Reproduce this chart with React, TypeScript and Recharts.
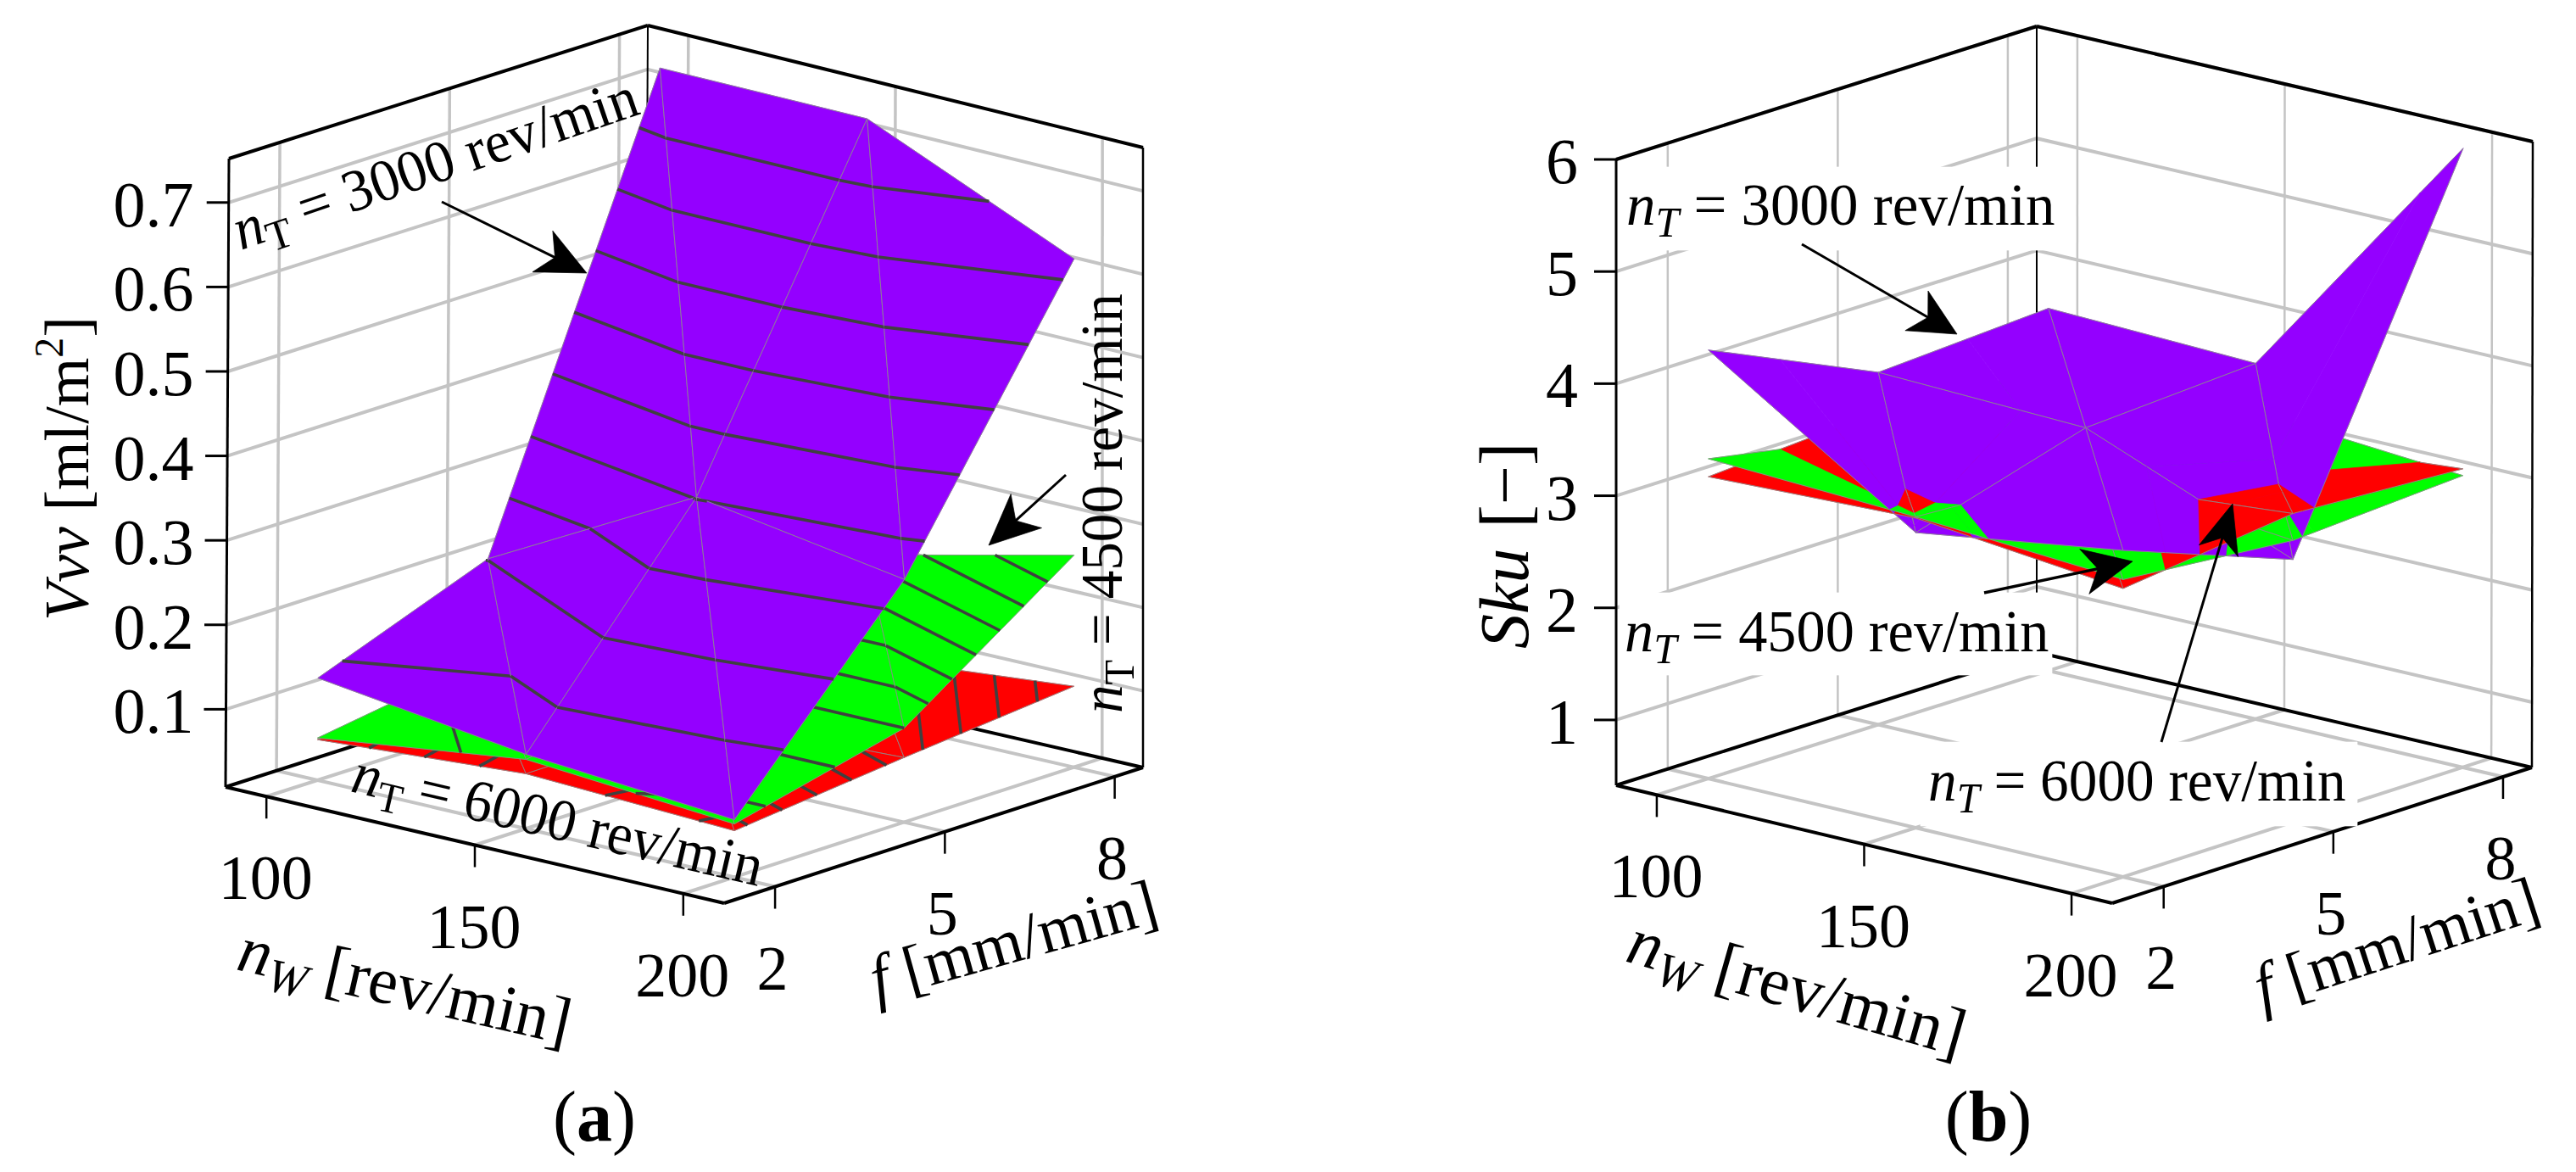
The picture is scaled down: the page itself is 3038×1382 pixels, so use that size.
import React from "react";
import { ScatterChart, Scatter, XAxis, YAxis } from "recharts";

// axis ticks
const NW_TICKS = [100, 150, 200];
const F_TICKS = [2, 5, 8];
const VVV_TICKS = [0.1, 0.2, 0.3, 0.4, 0.5, 0.6, 0.7];
const SKU_TICKS = [1, 2, 3, 4, 5, 6];

// surface heights, one row per feed (2, 5, 8), one column per nW (100, 150, 200)
const VVV_3000 = [
  [0.129, 0.096, 0.076],
  [0.206, 0.337, 0.297],
  [0.724, 0.724, 0.617],
];
const VVV_4500 = [
  [0.058, 0.09, 0.071],
  [0.089, 0.12, 0.12],
  [0.22, 0.204, 0.262],
];
const VVV_6000 = [
  [0.056, 0.073, 0.063],
  [0.06, 0.075, 0.085],
  [0.07, 0.082, 0.105],
];
const SKU_3000 = [
  [4.24, 3.05, 3.33],
  [3.56, 3.5, 2.76],
  [3.65, 3.59, 5.94],
];
const SKU_4500 = [
  [3.27, 3.19, 3.07],
  [2.99, 3.11, 2.93],
  [3.2, 3.16, 3.02],
];
const SKU_6000 = [
  [3.11, 3.18, 2.99],
  [3.21, 3.01, 3.17],
  [3.0, 2.93, 3.08],
];

// contour levels drawn on the left hand surfaces
const LEVELS_3000 = [0.14, 0.205, 0.27, 0.335, 0.401, 0.466, 0.531, 0.596, 0.661];
const LEVELS_4500 = [0.08, 0.1, 0.12, 0.14, 0.16, 0.18, 0.2, 0.22, 0.24];
const LEVELS_6000 = [0.0602, 0.0647, 0.0692, 0.0737, 0.0782, 0.0827, 0.0872, 0.0917, 0.0962, 0.1007];

const PURPLE = "#9400ff";
const GREEN = "#00ff00";
const RED = "#ff0000";
const GRID = "#c4c4c4";
const MESH = "#8c8c8c";
const CONTOUR = "#404040";
const SERIF = "'Liberation Serif', serif";

type Pt = { x: number; y: number };
type Frame = {
  nw: [number, number];
  f: [number, number];
  z: [number, number];
  // bottom corners left, front, right, back, then the same four on top
  bottom: number[][];
  top: number[][];
};

const FRAME_A: Frame = {
  nw: [90.2, 209.8],
  f: [1.1, 8.5],
  z: [0.008, 0.752],
  bottom: [[266, 928], [854, 1065], [1348, 905], [760, 770]],
  top: [[270, 187], [856, 322], [1348, 174], [764, 30]],
};
const FRAME_B: Frame = {
  nw: [90.2, 209.8],
  f: [1.09, 8.51],
  z: [0.417, 6.0],
  bottom: [[1906, 926], [2491, 1065], [2986, 905], [2402, 769]],
  top: [[1906, 188], [2491, 327], [2987, 167], [2402, 31]],
};

const norm = (v: number, [a, b]: [number, number]) => (v - a) / (b - a);

function project(fr: Frame, nw: number, f: number, z: number): Pt {
  const s = norm(nw, fr.nw);
  const t = norm(f, fr.f);
  const u = norm(z, fr.z);
  const at = (c: number[][], i: number) =>
    (1 - t) * ((1 - s) * c[0][i] + s * c[1][i]) + t * ((1 - s) * c[3][i] + s * c[2][i]);
  return {
    x: (1 - u) * at(fr.bottom, 0) + u * at(fr.top, 0),
    y: (1 - u) * at(fr.bottom, 1) + u * at(fr.top, 1),
  };
}

const NoDot = () => null;

function line(key: string, pts: Pt[], stroke: string, width: number) {
  return (
    <Scatter
      key={key}
      data={pts}
      shape={NoDot}
      isAnimationActive={false}
      line={{ stroke, strokeWidth: width, fill: "none" }}
    />
  );
}

function area(key: string, pts: Pt[], fill: string) {
  return (
    <Scatter
      key={key}
      data={[...pts, pts[0]]}
      shape={NoDot}
      isAnimationActive={false}
      line={{ stroke: fill, strokeWidth: 0.7, fill }}
    />
  );
}

type LabelOpts = { size: number; angle?: number; sx?: number; skew?: number; anchor?: string };

function label(key: string, at: Pt, content: React.ReactNode, o: LabelOpts) {
  const { size, angle = 0, sx = 1, skew = 0, anchor = "start" } = o;
  return (
    <Scatter
      key={key}
      data={[at]}
      isAnimationActive={false}
      shape={(p: any) => (
        <text
          transform={`translate(${p.cx} ${p.cy}) rotate(${angle}) skewX(${skew}) scale(${sx} 1)`}
          fontFamily={SERIF}
          fontSize={size}
          textAnchor={anchor}
          fill="#000"
        >
          {content}
        </text>
      )}
    />
  );
}

const sub = (size: number, text: string, italic = false) => (
  <>
    <tspan fontSize={size * 0.72} dy={size * 0.2} fontStyle={italic ? "italic" : "normal"}>
      {text}
    </tspan>
    <tspan dy={-size * 0.2}> </tspan>
  </>
);

const speedText = (size: number, rpm: string, italicT = false) => (
  <>
    <tspan fontStyle="italic">n</tspan>
    {sub(size, "T", italicT)}
    <tspan>= {rpm} rev/min</tspan>
  </>
);

function arrow(key: string, tail: Pt, tip: Pt, len: number, half: number, width: number) {
  const d = Math.hypot(tip.x - tail.x, tip.y - tail.y);
  const ux = (tip.x - tail.x) / d;
  const uy = (tip.y - tail.y) / d;
  const back = (l: number, w: number) => ({
    x: tip.x - ux * l - uy * w,
    y: tip.y - uy * l + ux * w,
  });
  return [
    line(key + "-shaft", [tail, back(len * 0.7, 0)], "#000", width),
    area(key + "-head", [tip, back(len, half), back(len * 0.72, 0), back(len, -half)], "#000"),
  ];
}

function frameMarks(
  fr: Frame,
  zTicks: number[],
  tickLabel: (z: number) => string,
  zLabelX: number,
  wallWidth: number,
  key: string,
) {
  const [n0, n1] = fr.nw;
  const [f0, f1] = fr.f;
  const [z0, z1] = fr.z;
  const out: React.ReactNode[] = [];
  const p = (a: number, b: number, c: number) => project(fr, a, b, c);

  NW_TICKS.forEach((n) => {
    out.push(line(`${key}-fn${n}`, [p(n, f0, z0), p(n, f1, z0)], GRID, 4));
    out.push(line(`${key}-wn${n}`, [p(n, f1, z0), p(n, f1, z1)], GRID, wallWidth));
  });
  F_TICKS.forEach((f) => {
    out.push(line(`${key}-ff${f}`, [p(n0, f, z0), p(n1, f, z0)], GRID, 4));
    out.push(line(`${key}-wf${f}`, [p(n0, f, z0), p(n0, f, z1)], GRID, wallWidth));
  });
  zTicks.forEach((z) => {
    out.push(line(`${key}-zl${z}`, [p(n0, f0, z), p(n0, f1, z), p(n1, f1, z)], GRID, 4));
  });

  const box: [string, Pt, Pt, number][] = [
    ["lb", p(n0, f0, z0), p(n0, f1, z0), 4],
    ["br", p(n0, f1, z0), p(n1, f1, z0), 4],
    ["lf", p(n0, f0, z0), p(n1, f0, z0), 4],
    ["fr", p(n1, f0, z0), p(n1, f1, z0), 4],
    ["tl", p(n0, f0, z1), p(n0, f1, z1), 4],
    ["tr", p(n0, f1, z1), p(n1, f1, z1), 4],
    ["vl", p(n0, f0, z0), p(n0, f0, z1), 3],
    ["vb", p(n0, f1, z0), p(n0, f1, z1), 2],
    ["vr", p(n1, f1, z0), p(n1, f1, z1), 2.5],
  ];
  box.forEach(([id, a, b, w]) => out.push(line(`${key}-${id}`, [a, b], "#000", w)));

  NW_TICKS.forEach((n) => {
    const a = p(n, f0, z0);
    out.push(line(`${key}-tn${n}`, [a, { x: a.x, y: a.y + 26 }], "#000", 2.5));
    out.push(label(`${key}-ln${n}`, { x: a.x - 1, y: a.y + 121 }, n, { size: 74, anchor: "middle" }));
  });
  F_TICKS.forEach((f) => {
    const a = p(n1, f, z0);
    out.push(line(`${key}-tf${f}`, [a, { x: a.x, y: a.y + 26 }], "#000", 2.5));
    out.push(label(`${key}-lf${f}`, { x: a.x - 3, y: a.y + 121 }, f, { size: 74, anchor: "middle" }));
  });
  zTicks.forEach((z) => {
    const a = p(n0, f0, z);
    out.push(line(`${key}-tz${z}`, [{ x: a.x - 26, y: a.y }, a], "#000", 3));
    out.push(label(`${key}-lz${z}`, { x: zLabelX, y: a.y + 28 }, tickLabel(z), { size: 76, anchor: "middle" }));
  });
  return out;
}

type Surface = { values: number[][]; color: string; levels: number[] };
type Bary = [number, number, number];

function clip(poly: Bary[], fn: (b: Bary) => number): Bary[] {
  const out: Bary[] = [];
  poly.forEach((a, i) => {
    const b = poly[(i + 1) % poly.length];
    const fa = fn(a);
    const fb = fn(b);
    if (fa >= 0) out.push(a);
    if ((fa >= 0) !== (fb >= 0)) {
      const r = fa / (fa - fb);
      out.push([a[0] + (b[0] - a[0]) * r, a[1] + (b[1] - a[1]) * r, a[2] + (b[2] - a[2]) * r]);
    }
  });
  return out;
}

const PERMS = [[0, 1, 2], [0, 2, 1], [1, 0, 2], [1, 2, 0], [2, 0, 1], [2, 1, 0]];

function surfaceMarks(fr: Frame, surfaces: Surface[], key: string) {
  type Piece = { rank: number; depth: number; node: React.ReactNode[] };
  const pieces: Piece[] = [];
  const cells: number[][][] = [];
  for (let j = 0; j < 2; j++) {
    for (let i = 0; i < 2; i++) {
      cells.push([[i, j], [i + 1, j], [i, j + 1]]);
      cells.push([[i + 1, j], [i + 1, j + 1], [i, j + 1]]);
    }
  }
  cells.forEach((tri, ci) => {
    const zOf = (s: Surface, b: Bary) =>
      b[0] * s.values[tri[0][1]][tri[0][0]] +
      b[1] * s.values[tri[1][1]][tri[1][0]] +
      b[2] * s.values[tri[2][1]][tri[2][0]];
    const nwOf = (b: Bary) => b[0] * NW_TICKS[tri[0][0]] + b[1] * NW_TICKS[tri[1][0]] + b[2] * NW_TICKS[tri[2][0]];
    const fOf = (b: Bary) => b[0] * F_TICKS[tri[0][1]] + b[1] * F_TICKS[tri[1][1]] + b[2] * F_TICKS[tri[2][1]];

    PERMS.forEach((perm, pi) => {
      let poly: Bary[] = [[1, 0, 0], [0, 1, 0], [0, 0, 1]];
      poly = clip(poly, (b) => zOf(surfaces[perm[1]], b) - zOf(surfaces[perm[0]], b));
      if (poly.length) poly = clip(poly, (b) => zOf(surfaces[perm[2]], b) - zOf(surfaces[perm[1]], b));
      if (poly.length < 3) return;
      const c: Bary = [0, 1, 2].map((k) => poly.reduce((acc, v) => acc + v[k], 0) / poly.length) as Bary;
      const spread = poly.reduce((acc, v) => acc + Math.abs(v[0] - c[0]) + Math.abs(v[1] - c[1]), 0);
      if (spread < 1e-4) return;

      perm.forEach((sid, rank) => {
        const s = surfaces[sid];
        const to = (b: Bary) => project(fr, nwOf(b), fOf(b), zOf(s, b));
        const id = `${key}-${ci}-${pi}-${sid}`;
        const node: React.ReactNode[] = [area(id, poly.map(to), s.color)];
        poly.forEach((a, i) => {
          const b = poly[(i + 1) % poly.length];
          if ([0, 1, 2].some((k) => a[k] < 1e-9 && b[k] < 1e-9)) {
            node.push(line(`${id}-m${i}`, [to(a), to(b)], MESH, 0.9));
          }
        });
        s.levels.forEach((lv) => {
          const hits: Pt[] = [];
          poly.forEach((a, i) => {
            const b = poly[(i + 1) % poly.length];
            const za = zOf(s, a);
            const zb = zOf(s, b);
            if (za < lv !== zb < lv) {
              const r = (lv - za) / (zb - za);
              hits.push(to([a[0] + (b[0] - a[0]) * r, a[1] + (b[1] - a[1]) * r, a[2] + (b[2] - a[2]) * r]));
            }
          });
          if (hits.length >= 2) node.push(line(`${id}-c${lv}`, [hits[0], hits[1]], CONTOUR, 3.6));
        });
        pieces.push({ rank, depth: norm(nwOf(c), fr.nw) - norm(fOf(c), fr.f), node });
      });
    });
  });
  pieces.sort((a, b) => a.rank - b.rank || a.depth - b.depth);
  return pieces.flatMap((p) => p.node);
}

const chartAxes = (domain: [number, number]) => [
  <XAxis key="x" type="number" dataKey="x" domain={domain} hide allowDataOverflow />,
  <YAxis key="y" type="number" dataKey="y" domain={[0, 1382]} reversed hide allowDataOverflow />,
];

function Panel({ domain, children }: { domain: [number, number]; children: React.ReactNode }) {
  return (
    <div style={{ position: "absolute", left: domain[0], top: 0, width: 1519, height: 1382 }}>
      <ScatterChart width={1519} height={1382} margin={{ top: 0, right: 0, bottom: 0, left: 0 }}>
        {chartAxes(domain)}
        {children}
      </ScatterChart>
    </div>
  );
}

function PanelA() {
  const surfaces: Surface[] = [
    { values: VVV_6000, color: RED, levels: LEVELS_6000 },
    { values: VVV_4500, color: GREEN, levels: LEVELS_4500 },
    { values: VVV_3000, color: PURPLE, levels: LEVELS_3000 },
  ];
  return (
    <Panel domain={[0, 1519]}>
      {frameMarks(FRAME_A, VVV_TICKS, (z) => z.toFixed(1), 181, 3.5, "a")}
      {surfaceMarks(FRAME_A, surfaces, "as")}
      {arrow("a3000", { x: 521, y: 238 }, { x: 692, y: 322 }, 58, 27, 3)}
      {arrow("a4500", { x: 1257, y: 560 }, { x: 1166, y: 643 }, 60, 27, 3)}
      {label("a-l3000", { x: 284, y: 295 }, speedText(70, "3000"), { size: 70, angle: -18.8, sx: 0.97 })}
      {label("a-l4500", { x: 1323, y: 841 }, speedText(70, "4500"), { size: 70, angle: -90, sx: 0.96 })}
      {label("a-l6000", { x: 412, y: 933 }, speedText(70, "6000"), { size: 70, angle: 13.1, sx: 0.96 })}
      {label(
        "a-ty",
        { x: 104, y: 732 },
        <>
          <tspan fontStyle="italic">Vvv</tspan> [ml/m<tspan fontSize={48} dy={-30}>2</tspan>
          <tspan dy={30}>]</tspan>
        </>,
        { size: 74, angle: -90 },
      )}
      {label(
        "a-tn",
        { x: 277, y: 1143 },
        <>
          <tspan fontStyle="italic">n</tspan>
          {sub(78, "W", true)}
          <tspan>[rev/min]</tspan>
        </>,
        { size: 78, angle: 12.8 },
      )}
      {label(
        "a-tf",
        { x: 1034, y: 1180 },
        <>
          <tspan fontStyle="italic">f</tspan> [mm/min]
        </>,
        { size: 76, angle: -15.6 },
      )}
      {label(
        "a-cap",
        { x: 701, y: 1345 },
        <>
          (<tspan fontWeight="bold">a</tspan>)
        </>,
        { size: 84, anchor: "middle" },
      )}
    </Panel>
  );
}

function PanelB() {
  const surfaces: Surface[] = [
    { values: SKU_6000, color: RED, levels: [] },
    { values: SKU_4500, color: GREEN, levels: [] },
    { values: SKU_3000, color: PURPLE, levels: [] },
  ];
  const box = (k: string, x0: number, y0: number, x1: number, y1: number) =>
    area(k, [{ x: x0, y: y0 }, { x: x1, y: y0 }, { x: x1, y: y1 }, { x: x0, y: y1 }], "#fff");
  return (
    <Panel domain={[1519, 3038]}>
      {frameMarks(FRAME_B, SKU_TICKS, (z) => String(z), 1842, 2.5, "b")}
      {box("b-w3000", 1910, 197, 2425, 295)}
      {box("b-w4500", 1910, 699, 2420, 796)}
      {box("b-w6000", 2265, 875, 2780, 974)}
      {surfaceMarks(FRAME_B, surfaces, "bs")}
      {arrow("b3000", { x: 2125, y: 288 }, { x: 2308, y: 394 }, 55, 27, 3)}
      {arrow("b4500", { x: 2340, y: 699 }, { x: 2515, y: 662 }, 58, 27, 3.5)}
      {arrow("b6000", { x: 2549, y: 875 }, { x: 2633, y: 594 }, 58, 24, 3)}
      {label("b-l3000", { x: 1918, y: 265 }, speedText(69, "3000", true), { size: 69 })}
      {label("b-l4500", { x: 1916, y: 768 }, speedText(69, "4500", true), { size: 69, sx: 0.99 })}
      {label("b-l6000", { x: 2274, y: 944 }, speedText(69, "6000", true), { size: 69, sx: 0.975 })}
      {label(
        "b-ty",
        { x: 1802, y: 765 },
        <>
          <tspan fontStyle="italic">Sku</tspan>
          <tspan dx={24}>[−]</tspan>
        </>,
        { size: 82, angle: -90 },
      )}
      {label(
        "b-tn",
        { x: 1915, y: 1133 },
        <>
          <tspan fontStyle="italic">n</tspan>
          {sub(80, "W", true)}
          <tspan>[rev/min]</tspan>
        </>,
        { size: 80, angle: 16 },
      )}
      {label(
        "b-tf",
        { x: 2668, y: 1190 },
        <>
          <tspan fontStyle="italic">f</tspan> [mm/min]
        </>,
        { size: 76, angle: -18 },
      )}
      {label(
        "b-cap",
        { x: 2345, y: 1345 },
        <>
          (<tspan fontWeight="bold">b</tspan>)
        </>,
        { size: 84, anchor: "middle" },
      )}
    </Panel>
  );
}

export default function App() {
  return (
    <div style={{ position: "absolute", left: 0, top: 0, width: 3038, height: 1382, background: "#fff" }}>
      <PanelA />
      <PanelB />
    </div>
  );
}
